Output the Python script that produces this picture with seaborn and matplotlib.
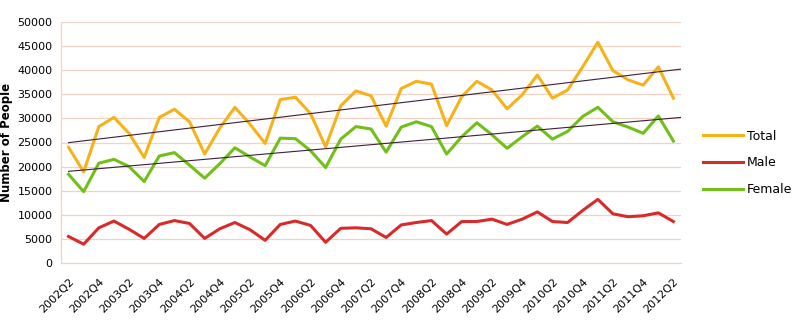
import numpy as np
import pandas as pd
import matplotlib
matplotlib.use("Agg")
import matplotlib.pyplot as plt
import seaborn as sns
from matplotlib.lines import Line2D

quarters = [f"{y}Q{q}" for y in range(2002, 2013) for q in range(1, 5)]
quarters = quarters[quarters.index("2002Q2"):quarters.index("2012Q2") + 1]

total = [24000, 18900, 28300, 30200, 26900, 21900, 30200, 31900, 29300, 22600,
         28000, 32300, 28800, 24800, 33900, 34400, 31000, 24100, 32600, 35700,
         34700, 28400, 36200, 37700, 37100, 28500, 34500, 37700, 35900, 32000,
         34900, 39000, 34200, 35900, 40700, 45800, 39900, 38000, 36900, 40700,
         34200]
male = [5500, 3900, 7300, 8700, 7000, 5100, 8000, 8800, 8200, 5100,
        7100, 8400, 6900, 4700, 8000, 8700, 7800, 4300, 7200, 7300,
        7100, 5300, 7900, 8400, 8800, 6000, 8600, 8600, 9100, 8000,
        9100, 10600, 8600, 8400, 10900, 13200, 10200, 9600, 9800, 10400,
        8600]
female = [18400, 14800, 20700, 21500, 20000, 16900, 22200, 22900, 20300, 17600,
          20600, 23900, 22000, 20200, 25900, 25800, 23300, 19800, 25700, 28300,
          27800, 23000, 28200, 29300, 28300, 22600, 26200, 29100, 26600, 23800,
          26200, 28400, 25700, 27300, 30400, 32300, 29300, 28200, 26900, 30500,
          25300]

series_names = ["Total", "Male", "Female"]
colors = {"Total": "#f5b21a", "Male": "#d92a2a", "Female": "#72bf1a"}

df = pd.DataFrame({
    "idx": list(range(len(quarters))) * 3,
    "value": total + male + female,
    "series": ["Total"] * len(total) + ["Male"] * len(male) + ["Female"] * len(female),
})

fig = plt.figure(figsize=(7.93, 3.22), dpi=100)
ax = fig.add_axes([61 / 793, 1 - 263 / 322, 620 / 793, 241 / 322])

grid_c = "#f0d3c4"
for v in range(5000, 50001, 5000):
    ax.axhline(v, color=grid_c, lw=0.9, zorder=0)

sns.lineplot(data=df, x="idx", y="value", hue="series", hue_order=series_names,
             palette=colors, lw=2.2, ax=ax, legend=False, zorder=3)

# linear trendlines for Total and Female
xs = np.arange(len(quarters))
xt = np.array([0, len(quarters) - 0.5])
for vals in (total, female):
    k, b = np.polyfit(xs, vals, 1)
    ax.plot(xt, k * xt + b, color="#3c1f3c", lw=0.8, zorder=4)

ax.set_xlim(-0.5, len(quarters) - 0.5)
ax.set_ylim(0, 50000)
ax.set_yticks(range(0, 50001, 5000))
ax.set_yticklabels([str(v) for v in range(0, 50001, 5000)], fontsize=8)
ax.set_xticks(xs[::2])
ax.set_xticklabels(quarters[::2], rotation=45, ha="right", rotation_mode="anchor", fontsize=8)
ax.tick_params(length=0)
ax.tick_params(axis="y", pad=6)
ax.tick_params(axis="x", pad=10)
ax.set_xlabel("")
ax.set_ylabel("")
for s in ["top", "right"]:
    ax.spines[s].set_visible(False)
for s in ["left", "bottom"]:
    ax.spines[s].set_color(grid_c)
    ax.spines[s].set_linewidth(0.9)

fig.text(7 / 793, 1 - 142 / 322, "Number of People", rotation=90, fontsize=8.5,
         fontweight="bold", ha="center", va="center")

handles = [Line2D([], [], color=colors[n], lw=2.2) for n in series_names]
fig.legend(handles, series_names, loc="center left", bbox_to_anchor=(698 / 793, 1 - 163 / 322),
           frameon=False, fontsize=9, handlelength=3.2, handletextpad=0.3, labelspacing=1.1,
           borderaxespad=0)

fig.savefig("out.png", dpi=100)
